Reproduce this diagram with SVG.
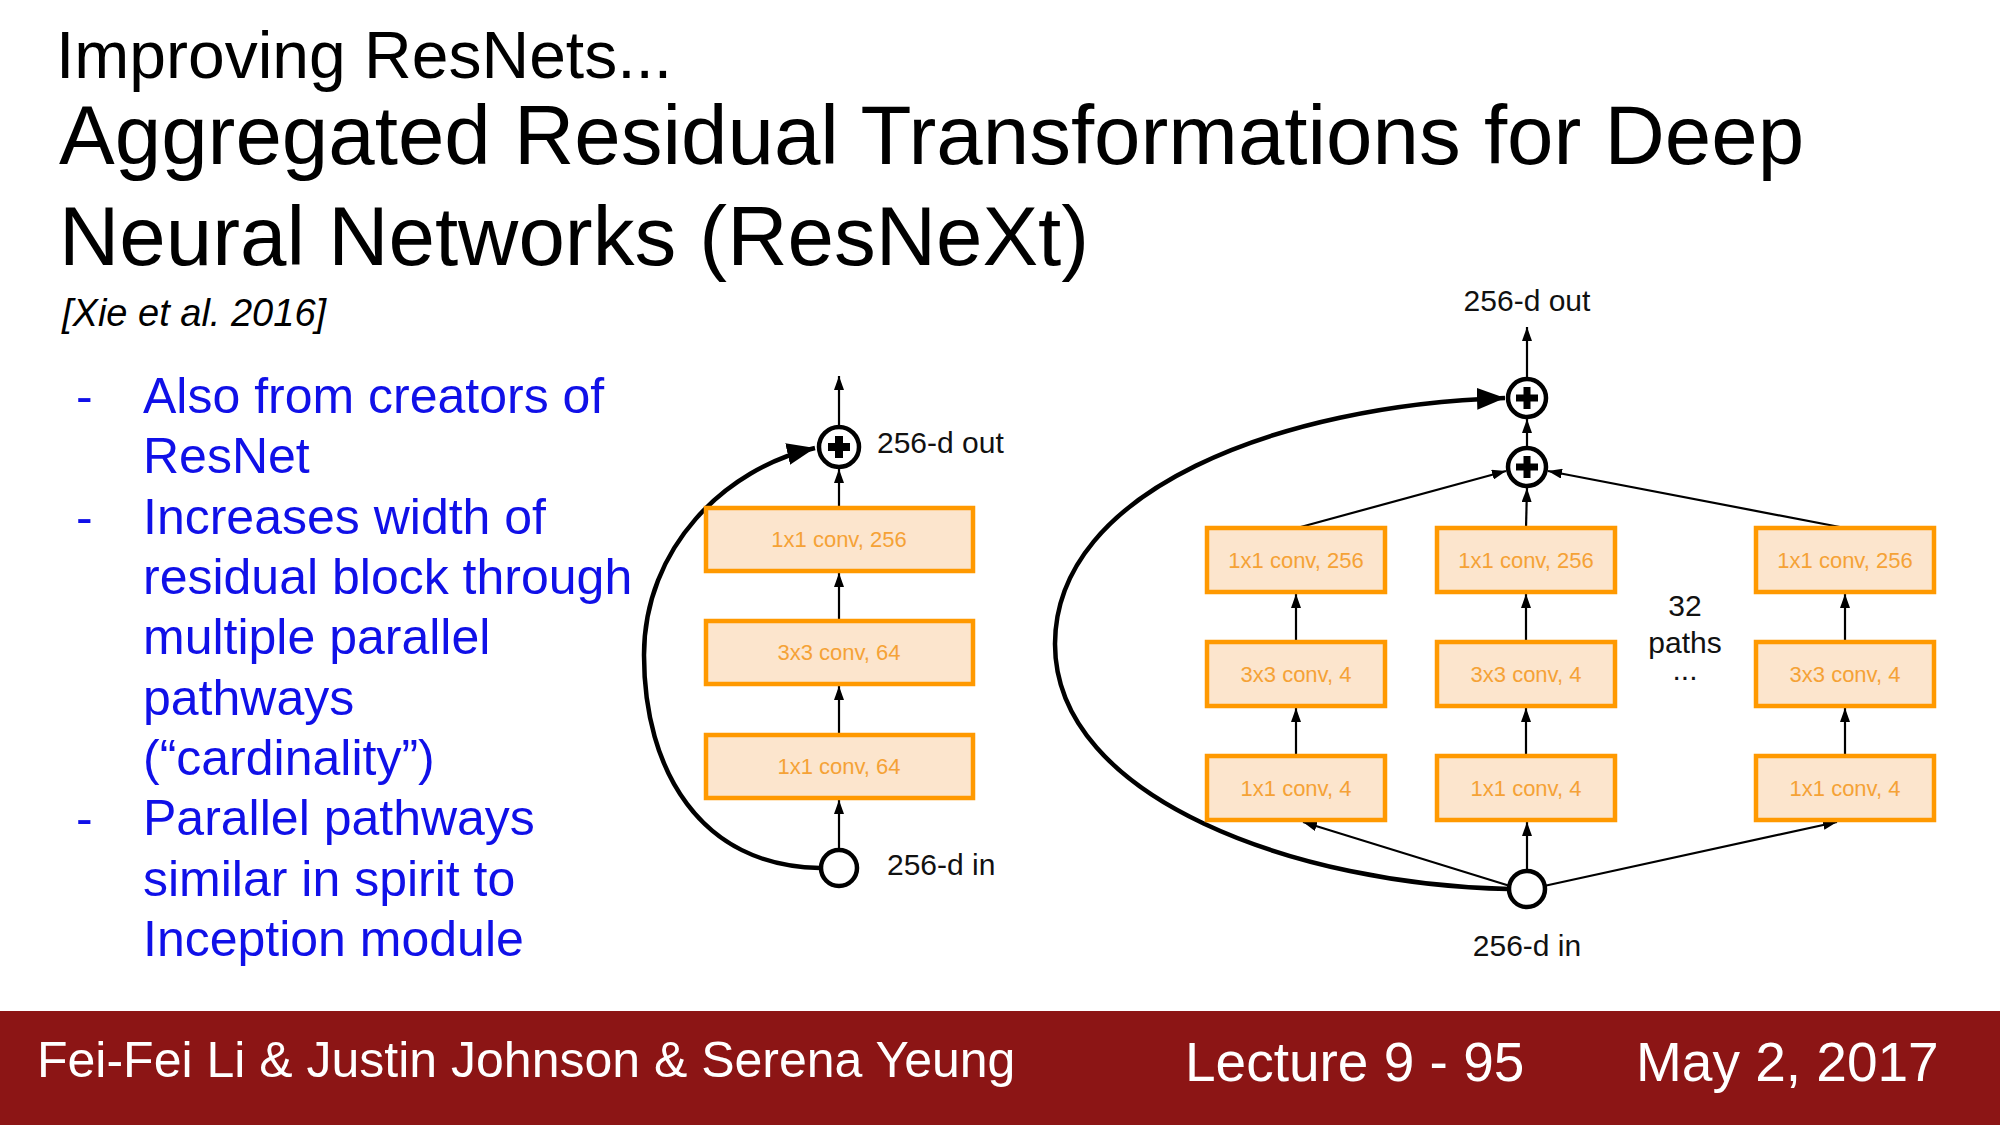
<svg xmlns="http://www.w3.org/2000/svg" width="2000" height="1125" viewBox="0 0 2000 1125">
<style>
  .t { font-family: "Liberation Sans", Arial, sans-serif; }
  .title { font-size: 83.5px; fill: #000; }
  .bul { font-size: 50px; fill: #1010E8; }
  .lab { font-size: 30px; fill: #111; }
  .box rect { fill: #FCE5CD; stroke: #FF9900; stroke-width: 4.5; }
  .box text { font-family: "Liberation Sans", Arial, sans-serif; font-size: 22px; fill: #F5A236; text-anchor: middle; }
  .circ { fill: #fff; stroke: #000; stroke-width: 4.5; }
  .thin { stroke: #000; stroke-width: 2.2; fill: none; }
  .skip { stroke: #000; stroke-width: 4.5; fill: none; }
  .foot { font-size: 50px; fill: #fff; }
</style>
<defs>
  <marker id="ah" markerUnits="userSpaceOnUse" markerWidth="14" markerHeight="10" refX="14" refY="5" orient="auto">
    <path d="M0,0 L14,5 L0,10 z" fill="#000"/>
  </marker>
  <marker id="big" markerUnits="userSpaceOnUse" markerWidth="28" markerHeight="22" refX="28" refY="11" orient="auto">
    <path d="M0,0 L28,11 L0,22 z" fill="#000"/>
  </marker>
</defs>
<rect x="0" y="0" width="2000" height="1125" fill="#fff"/>

<g id="titles" class="t">
  <text x="56" y="78" font-size="66" fill="#000">Improving ResNets...</text>
  <text x="59" y="164" class="title">Aggregated Residual Transformations for Deep</text>
  <text x="59" y="265" class="title">Neural Networks (ResNeXt)</text>
  <text x="62" y="326" font-size="38" font-style="italic" fill="#000">[Xie et al. 2016]</text>
</g>

<g id="bullets" class="t bul">
  <text x="76" y="413">-</text><text x="143" y="413">Also from creators of</text>
  <text x="143" y="473">ResNet</text>
  <text x="76" y="534">-</text><text x="143" y="534">Increases width of</text>
  <text x="143" y="594">residual block through</text>
  <text x="143" y="654">multiple parallel</text>
  <text x="143" y="715">pathways</text>
  <text x="143" y="775">(“cardinality”)</text>
  <text x="76" y="835">-</text><text x="143" y="835">Parallel pathways</text>
  <text x="143" y="896">similar in spirit to</text>
  <text x="143" y="956">Inception module</text>
</g>

<g id="connectors">
  <!-- left block -->
  <line class="thin" x1="839" y1="425" x2="839" y2="376" marker-end="url(#ah)"/>
  <line class="thin" x1="839" y1="508" x2="839" y2="469" marker-end="url(#ah)"/>
  <line class="thin" x1="839" y1="621" x2="839" y2="573" marker-end="url(#ah)"/>
  <line class="thin" x1="839" y1="735" x2="839" y2="686" marker-end="url(#ah)"/>
  <line class="thin" x1="839" y1="848" x2="839" y2="800" marker-end="url(#ah)"/>
  <path class="skip" d="M 820 868 C 700 866, 644 770, 644 655 C 644 548, 725 468, 815 448" marker-end="url(#big)"/>
  <!-- right block -->
  <line class="thin" x1="1527" y1="377" x2="1527" y2="327" marker-end="url(#ah)"/>
  <line class="thin" x1="1527" y1="446" x2="1527" y2="419" marker-end="url(#ah)"/>
  <line class="thin" x1="1526" y1="528" x2="1527" y2="488" marker-end="url(#ah)"/>
  <line class="thin" x1="1297" y1="528" x2="1506" y2="471" marker-end="url(#ah)"/>
  <line class="thin" x1="1845" y1="528" x2="1548" y2="471" marker-end="url(#ah)"/>
  <line class="thin" x1="1296" y1="642" x2="1296" y2="594" marker-end="url(#ah)"/>
  <line class="thin" x1="1296" y1="756" x2="1296" y2="708" marker-end="url(#ah)"/>
  <line class="thin" x1="1526" y1="642" x2="1526" y2="594" marker-end="url(#ah)"/>
  <line class="thin" x1="1526" y1="756" x2="1526" y2="708" marker-end="url(#ah)"/>
  <line class="thin" x1="1845" y1="642" x2="1845" y2="594" marker-end="url(#ah)"/>
  <line class="thin" x1="1845" y1="756" x2="1845" y2="708" marker-end="url(#ah)"/>
  <line class="thin" x1="1527" y1="870" x2="1527" y2="822" marker-end="url(#ah)"/>
  <line class="thin" x1="1510" y1="886" x2="1303" y2="822" marker-end="url(#ah)"/>
  <line class="thin" x1="1544" y1="886" x2="1837" y2="822" marker-end="url(#ah)"/>
  <path class="skip" d="M 1509 889 C 1300 885, 1055 800, 1055 644 C 1055 490, 1280 405, 1505 398" marker-end="url(#big)"/>
</g>

<!-- left block nodes -->
<g id="L_plus"><circle class="circ" cx="839" cy="447" r="20"/><rect x="828" y="443" width="22" height="8" fill="#000"/><rect x="835" y="436" width="8" height="22" fill="#000"/></g>
<g id="L_box1" class="box"><rect x="706" y="508" width="267" height="63"/><text x="839" y="547">1x1 conv, 256</text></g>
<g id="L_box2" class="box"><rect x="706" y="621" width="267" height="63"/><text x="839" y="660">3x3 conv, 64</text></g>
<g id="L_box3" class="box"><rect x="706" y="735" width="267" height="63"/><text x="839" y="774">1x1 conv, 64</text></g>
<g id="L_in"><circle class="circ" cx="839" cy="868" r="18"/></g>
<g id="L_labels" class="t lab">
  <text x="877" y="453">256-d out</text>
  <text x="887" y="875">256-d in</text>
</g>

<!-- right block nodes -->
<g id="R_plus2"><circle class="circ" cx="1527" cy="398" r="19"/><rect x="1516" y="394.5" width="22" height="7" fill="#000"/><rect x="1523.5" y="387" width="7" height="22" fill="#000"/></g>
<g id="R_plus1"><circle class="circ" cx="1527" cy="467" r="19"/><rect x="1516" y="463.5" width="22" height="7" fill="#000"/><rect x="1523.5" y="456" width="7" height="22" fill="#000"/></g>
<g id="R_a1" class="box"><rect x="1207" y="528" width="178" height="64"/><text x="1296" y="568">1x1 conv, 256</text></g>
<g id="R_a2" class="box"><rect x="1207" y="642" width="178" height="64"/><text x="1296" y="682">3x3 conv, 4</text></g>
<g id="R_a3" class="box"><rect x="1207" y="756" width="178" height="64"/><text x="1296" y="796">1x1 conv, 4</text></g>
<g id="R_b1" class="box"><rect x="1437" y="528" width="178" height="64"/><text x="1526" y="568">1x1 conv, 256</text></g>
<g id="R_b2" class="box"><rect x="1437" y="642" width="178" height="64"/><text x="1526" y="682">3x3 conv, 4</text></g>
<g id="R_b3" class="box"><rect x="1437" y="756" width="178" height="64"/><text x="1526" y="796">1x1 conv, 4</text></g>
<g id="R_c1" class="box"><rect x="1756" y="528" width="178" height="64"/><text x="1845" y="568">1x1 conv, 256</text></g>
<g id="R_c2" class="box"><rect x="1756" y="642" width="178" height="64"/><text x="1845" y="682">3x3 conv, 4</text></g>
<g id="R_c3" class="box"><rect x="1756" y="756" width="178" height="64"/><text x="1845" y="796">1x1 conv, 4</text></g>
<g id="R_in"><circle class="circ" cx="1527" cy="889" r="18"/></g>
<g id="R_labels" class="t lab" text-anchor="middle">
  <text x="1527" y="311">256-d out</text>
  <text x="1527" y="956">256-d in</text>
  <text x="1685" y="616">32</text>
  <text x="1685" y="653">paths</text>
  <text x="1685" y="680">...</text>
</g>

<g id="footer">
  <rect x="0" y="1011" width="2000" height="114" fill="#8C1515"/>
  <text class="t foot" x="37" y="1077">Fei-Fei Li &amp; Justin Johnson &amp; Serena Yeung</text>
  <text class="t" x="1185" y="1081" font-size="55" fill="#fff">Lecture 9 - 95</text>
  <text class="t" x="1636" y="1081" font-size="55" fill="#fff">May 2, 2017</text>
</g>
</svg>
